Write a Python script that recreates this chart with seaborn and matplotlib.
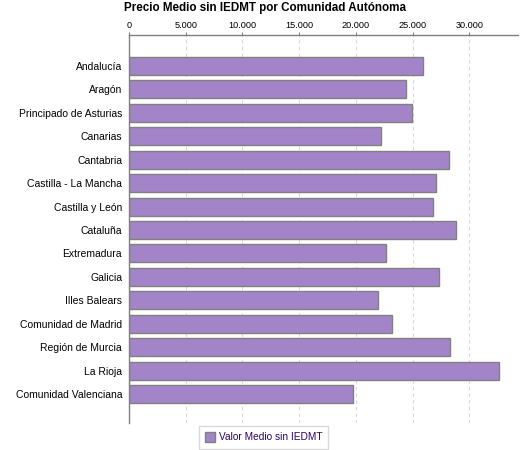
import pandas as pd
import seaborn as sns
import matplotlib.pyplot as plt
from matplotlib.patches import Patch
from matplotlib.ticker import FuncFormatter

# datos
comunidades = ["Andalucía", "Aragón", "Principado de Asturias", "Canarias", "Cantabria",
               "Castilla - La Mancha", "Castilla y León", "Cataluña", "Extremadura", "Galicia",
               "Illes Balears", "Comunidad de Madrid", "Región de Murcia", "La Rioja",
               "Comunidad Valenciana"]
valor_medio = [25880, 24380, 24900, 22170, 28170, 27020, 26760, 28790, 22610, 27290,
               21910, 23140, 28260, 32580, 19700]
serie = "Valor Medio sin IEDMT"

df = pd.DataFrame({"Comunidad": comunidades, "Valor": valor_medio})

sns.set_style("white")
plt.rcParams['font.family'] = ['Liberation Sans', 'DejaVu Sans']
plt.rcParams['text.color'] = 'black'

color_barra = "#a484c8"
gris = "#808080"

fig = plt.figure(figsize=(5.25, 4.5), dpi=100)
ax = fig.add_axes([0.2457, 0.06, 0.7403, 0.862])

sns.barplot(data=df, x="Valor", y="Comunidad", orient="h", color=color_barra,
            saturation=1, width=0.77, edgecolor=gris, linewidth=1, ax=ax)

ax.set_xlim(0, 34250)
ax.set_ylim(len(comunidades) - 1 + 1.23, -1.31)
ax.set_xticks([0, 5000, 10000, 15000, 20000, 25000, 30000])
ax.xaxis.set_major_formatter(FuncFormatter(lambda v, p: f"{int(v):,}".replace(",", ".")))
ax.xaxis.tick_top()
ax.set_xlabel("")
ax.set_ylabel("")

ax.grid(axis="x", color="#d8d8d8", linestyle=(0, (3, 3)), linewidth=0.8)
ax.set_axisbelow(True)

for s in ["right", "bottom"]:
    ax.spines[s].set_visible(False)
for s in ["top", "left"]:
    ax.spines[s].set_color(gris)
    ax.spines[s].set_linewidth(1)

ax.tick_params(axis="x", labelsize=6.6, length=2, color=gris, pad=2, labelcolor="black")
ax.tick_params(axis="y", labelsize=7.5, length=2, color=gris, pad=3, labelcolor="black")

fig.suptitle("Precio Medio sin IEDMT por Comunidad Autónoma", x=0.505, y=0.995,
             fontsize=8.4, fontweight="bold", color="black")

handles = [Patch(facecolor=color_barra, edgecolor=gris, label=serie)]
leg = fig.legend(handles=handles, loc="lower center", bbox_to_anchor=(0.502, -0.008),
                 fontsize=7.3, frameon=True, fancybox=False, handlelength=1.0,
                 handleheight=1.0, handletextpad=0.4, borderpad=0.6)
leg.get_frame().set_edgecolor("#d0d0d0")
for t in leg.get_texts():
    t.set_color("#330066")

fig.savefig("out.png", dpi=100)
